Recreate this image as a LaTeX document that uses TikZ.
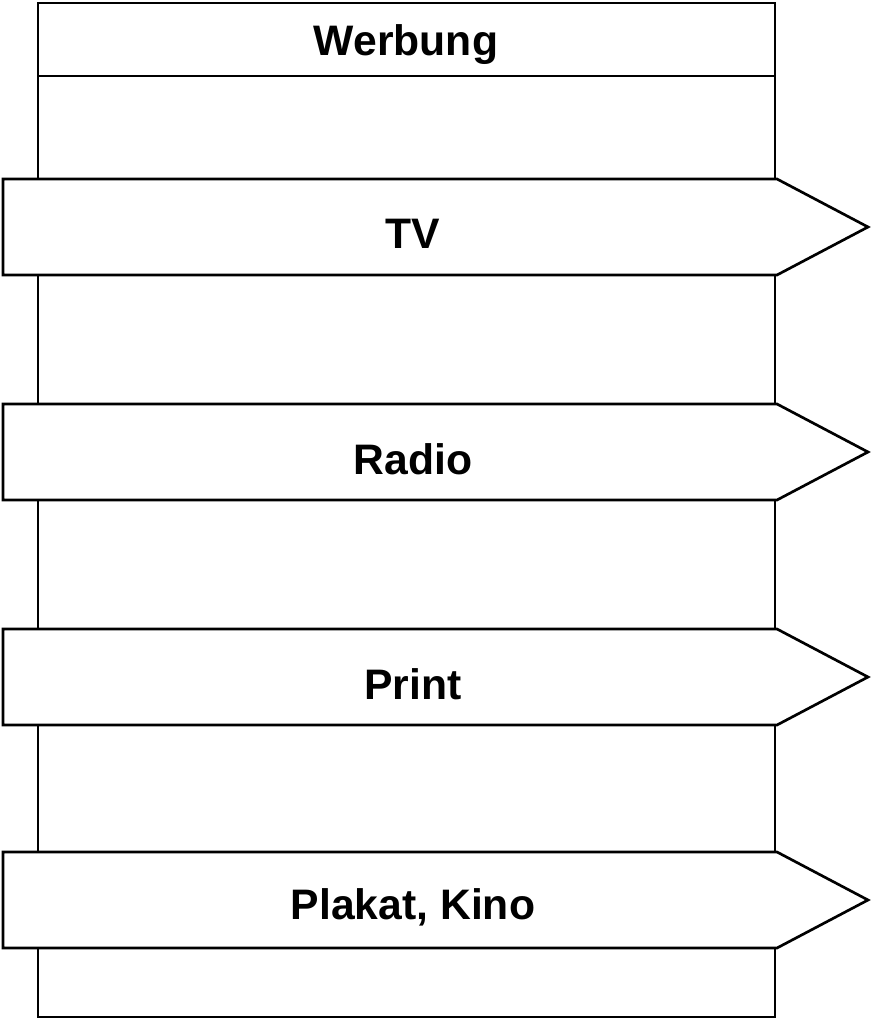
\documentclass[tikz,border=0pt]{standalone}
\usepackage{fontspec}
\setmainfont{Liberation Sans}
\begin{document}
\begin{tikzpicture}[x=0.75pt, y=-0.75pt, line width=2pt, line join=miter,
  label/.style={font=\fontsize{32}{38}\selectfont\bfseries}]
  \useasboundingbox (0, 0) rectangle (871, 1019);
  \draw (38, 3) rectangle (775, 1017);
  \draw (38, 76) -- (775, 76);
  \node[label] (werbung) at (406, 45) {Werbung};

  \foreach \top/\name/\txt in {179/tv/TV, 404/radio/Radio, 629/print/Print, 852/plakat/{Plakat, Kino}} {
    \filldraw[fill=white] (3, \top) -- (777, \top) -- (868, \top + 48)
      -- (777, \top + 96) -- (3, \top + 96) -- cycle;
    \node[label] (\name) at (413, \top + 55) {\txt};
  }
\end{tikzpicture}
\end{document}
